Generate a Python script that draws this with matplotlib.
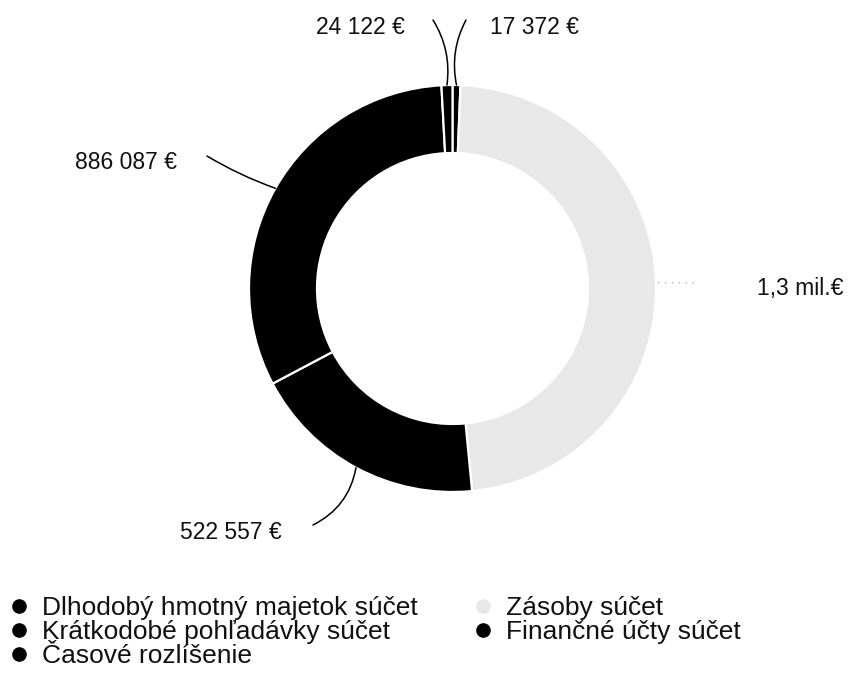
import numpy as np
import matplotlib.pyplot as plt
from matplotlib.lines import Line2D

plt.rcParams['font.family'] = ['Liberation Sans', 'DejaVu Sans']

# data (clockwise from 12 o'clock)
categories = ['Dlhodobý hmotný majetok súčet', 'Zásoby súčet',
              'Krátkodobé pohľadávky súčet', 'Finančné účty súčet',
              'Časové rozlíšenie']
values = [17372, 1330000, 522557, 886087, 24122]
value_labels = ['17 372 €', '1,3 mil.€', '522 557 €', '886 087 €', '24 122 €']
colors = ['#000000', '#e8e8e8', '#000000', '#000000', '#000000']

W, H = 850, 683
fig = plt.figure(figsize=(8.5, 6.83), dpi=100)
ax = fig.add_axes([0, 0, 1, 1])

# donut in pixel-like data units (y up)
cx, cy, r, ring = 452.5, H - 288.5, 203.5, 68
wedges, _ = ax.pie(values, colors=colors, startangle=90, counterclock=False,
                   radius=r, center=(cx, cy),
                   wedgeprops=dict(width=ring, edgecolor='white', linewidth=1.6))
ax.set_xlim(0, W)
ax.set_ylim(0, H)
ax.axis('off')

# label layout: (text x, text baseline from top, ha, line end x, line end y from top, rad)
layout = [
    (490, 34, 'left', 466, 20, -0.18),
    (757, 295, 'left', 695, 283, 0.0),
    (282, 539, 'right', 313, 525, -0.25),
    (177, 169, 'right', 207, 156, -0.05),
    (405, 34, 'right', 433, 20, 0.18),
]

for w, lab, (tx, ty, ha, lx, ly, rad) in zip(wedges, value_labels, layout):
    ang = np.deg2rad((w.theta1 + w.theta2) / 2)
    px, py = cx + r * np.cos(ang), cy + r * np.sin(ang)
    if lab.startswith('1,3'):
        ax.plot([px + 2, lx], [py, H - ly], color='#b0b0b0', lw=1,
                linestyle=(0, (1, 4)))
    else:
        ax.annotate('', xy=(lx, H - ly), xytext=(px, py),
                    arrowprops=dict(arrowstyle='-', color='black', lw=1.1,
                                    shrinkA=0, shrinkB=0,
                                    connectionstyle=f'arc3,rad={rad}'))
    ax.text(tx, H - ty, lab, ha=ha, va='baseline', fontsize=16.5, color='#111111')

handles = [Line2D([], [], marker='o', linestyle='none', markersize=9.5,
                  markerfacecolor=c, markeredgecolor=c) for c in colors]
# legend order: row-major in two columns
order = [0, 2, 4, 1, 3]
ax.legend([handles[i] for i in order], [categories[i] for i in order],
          ncol=2, loc='upper left', bbox_to_anchor=(6 / W, 1 - 596 / H),
          frameon=False, fontsize=19, handlelength=1.0, handletextpad=0.35,
          columnspacing=2.0, labelspacing=0.0, borderpad=0, borderaxespad=0,
          labelcolor='#111111')

fig.savefig('out.png', dpi=100)
